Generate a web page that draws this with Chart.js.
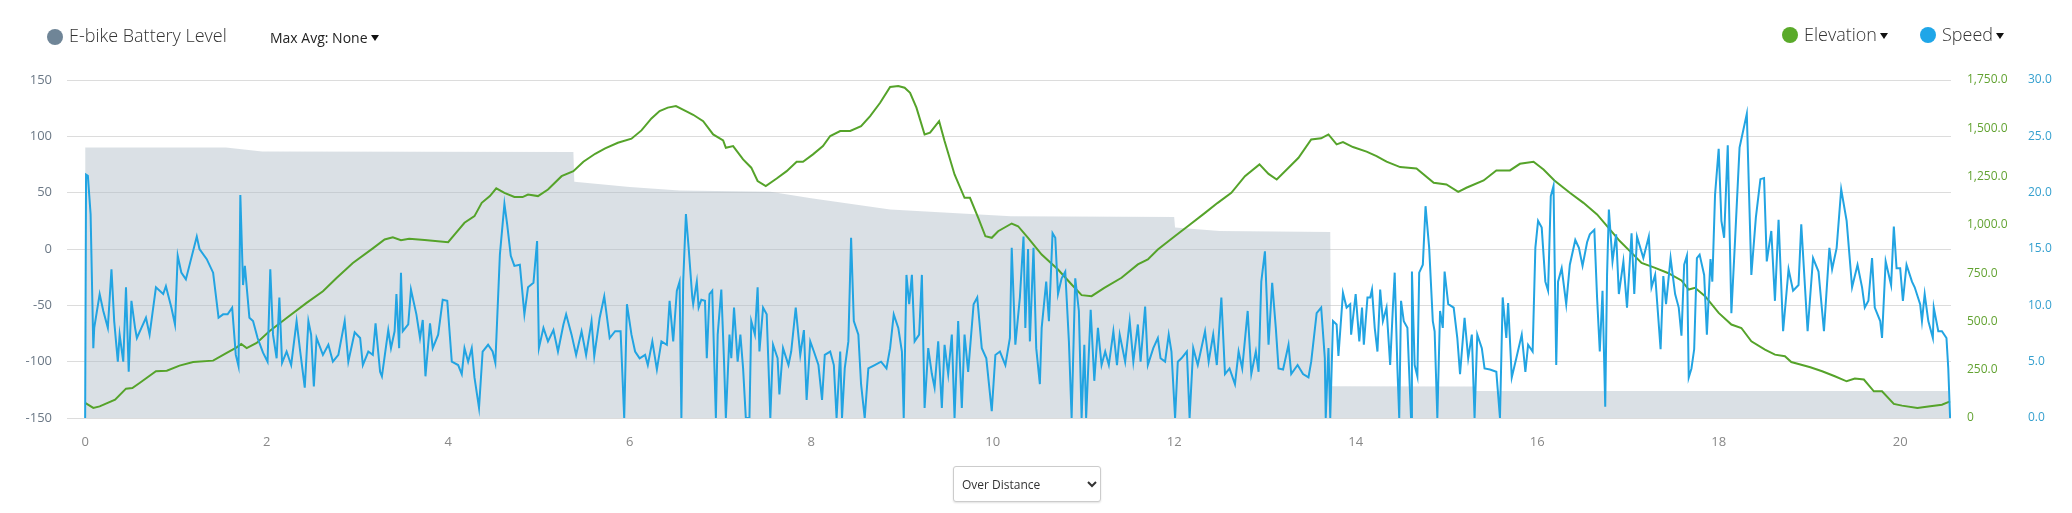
<!DOCTYPE html>
<html>
<head>
<meta charset="utf-8">
<script src="https://cdn.jsdelivr.net/npm/chart.js@4.4.1/dist/chart.umd.min.js"></script>
<style>
  html, body { margin: 0; padding: 0; background: #fff; }
  body { font-family: "Open Sans", sans-serif; }
  #wrap { position: relative; width: 2072px; height: 513px; overflow: hidden; }
  #rideChart { position: absolute; left: 0; top: 0; }
  .dot { position: absolute; width: 16px; height: 16px; border-radius: 50%; }
  .lbl { position: absolute; white-space: nowrap; color: #333; }
  .caret { display: inline-block; width: 0; height: 0; border-left: 4px solid transparent;
    border-right: 4px solid transparent; border-top: 6px solid #111; margin-left: 3px; vertical-align: 2px; }
  #modeSel { position: absolute; left: 953px; top: 466px; width: 148px; height: 36px;
    font-family: "Open Sans", sans-serif; font-size: 12px; color: #333; background: #fff;
    border: 1px solid #ccc; border-radius: 3px; padding-left: 4px; box-shadow: 0 1px 2px rgba(0,0,0,0.12); }
</style>
</head>
<body>
<div id="wrap">
  <canvas id="rideChart" width="2072" height="513"></canvas>

  <div class="dot" style="left:47px; top:29px; background:#6f8597;"></div>
  <div class="lbl" style="left:69px; top:26px; font-size:18px; line-height:18px; font-weight:300;">E-bike Battery Level</div>
  <div class="lbl" style="left:270px; top:31px; font-size:14px; line-height:14px; font-weight:500; color:#222;">Max Avg: None<span class="caret"></span></div>

  <div class="dot" style="left:1782px; top:27px; background:#5aaa2a;"></div>
  <div class="lbl" style="left:1804px; top:25px; font-size:18px; line-height:18px; font-weight:300;">Elevation<span class="caret"></span></div>
  <div class="dot" style="left:1920px; top:27px; background:#1fa6e8;"></div>
  <div class="lbl" style="left:1942px; top:25px; font-size:18px; line-height:18px; font-weight:300;">Speed<span class="caret"></span></div>

  <select id="modeSel"><option>Over Distance</option><option>Over Time</option></select>
</div>

<script>
  // distance along the ride (x axis)
  const xTicks = [0, 2, 4, 6, 8, 10, 12, 14, 16, 18, 20];

  // battery level, drawn on the left axis
  const batteryDist = [0, 1.55, 1.95, 5.38, 5.39, 6.0, 6.55, 7.55, 8.0, 8.87, 10.2, 12.0, 12.01, 12.5, 13.72, 13.73, 15.3, 15.32, 20.55];
  const batteryLvl = [90, 90, 86.5, 86, 59.7, 55, 52, 50.8, 45, 35, 29, 28.3, 19, 16, 15, -121.8, -122, -126, -126];

  // elevation (right axis, metres)
  const elevDist = [0.0, 0.09, 0.16, 0.33, 0.45, 0.52, 0.6, 0.78, 0.9, 1.04, 1.19, 1.41, 1.56, 1.67, 1.72, 1.78, 1.89, 2.03, 2.22, 2.44,
    2.62, 2.77, 2.95, 3.17, 3.30, 3.39, 3.48, 3.57, 3.74, 4.0, 4.07, 4.18, 4.29, 4.37, 4.46, 4.53, 4.62, 4.73, 4.82, 4.88,
    4.99, 5.10, 5.25, 5.38, 5.49, 5.62, 5.73, 5.87, 6.02, 6.13, 6.24, 6.33, 6.42, 6.51, 6.62, 6.70, 6.81, 6.92, 7.03, 7.06,
    7.14, 7.25, 7.34, 7.41, 7.50, 7.62, 7.73, 7.84, 7.91, 8.02, 8.13, 8.21, 8.32, 8.43, 8.55, 8.65, 8.76, 8.87, 8.96, 9.03,
    9.09, 9.16, 9.25, 9.31, 9.41, 9.47, 9.58, 9.69, 9.75, 9.84, 9.92, 9.99, 10.06, 10.21, 10.28, 10.39, 10.54, 10.72, 10.87, 10.98,
    11.09, 11.23, 11.42, 11.60, 11.71, 11.82, 12.01, 12.15, 12.34, 12.48, 12.63, 12.78, 12.94, 13.04, 13.13, 13.26, 13.37, 13.51, 13.62, 13.70,
    13.79, 13.86, 13.97, 14.12, 14.23, 14.34, 14.49, 14.67, 14.86, 15.0, 15.13, 15.22, 15.41, 15.55, 15.70, 15.81, 15.96, 16.07, 16.19, 16.36,
    16.51, 16.66, 16.77, 16.91, 17.06, 17.15, 17.30, 17.44, 17.59, 17.67, 17.74, 17.85, 18.0, 18.14, 18.25, 18.36, 18.51, 18.62, 18.73, 18.80,
    18.91, 19.01, 19.14, 19.28, 19.41, 19.50, 19.60, 19.71, 19.80, 19.93, 20.02, 20.19, 20.31, 20.46, 20.55];
  const elevM = [78, 52, 60, 95, 152, 155, 181, 242, 245, 271, 290, 297, 337, 366, 383, 362, 389, 449, 518, 596,
    656, 725, 803, 878, 924, 936, 920, 928, 922, 910, 950, 1011, 1045, 1114, 1149, 1189, 1166, 1144, 1144, 1157,
    1149, 1183, 1252, 1278, 1327, 1368, 1396, 1425, 1446, 1489, 1551, 1589, 1607, 1615, 1589, 1570, 1537, 1468, 1437, 1399,
    1408, 1339, 1296, 1227, 1201, 1240, 1278, 1327, 1327, 1365, 1408, 1460, 1486, 1486, 1511, 1563, 1632, 1714, 1719, 1710,
    1684, 1607, 1468, 1477, 1537, 1434, 1261, 1140, 1140, 1037, 941, 933, 967, 1007, 993, 933, 846, 769, 691, 636,
    631, 674, 726, 795, 821, 872, 942, 993, 1062, 1114, 1166, 1252, 1313, 1264, 1235, 1296, 1347, 1442, 1448, 1468,
    1417, 1429, 1403, 1379, 1356, 1327, 1299, 1292, 1218, 1209, 1171, 1192, 1230, 1282, 1282, 1316, 1327, 1287, 1230, 1166,
    1114, 1054, 993, 916, 846, 803, 777, 751, 712, 665, 674, 631, 544, 484, 466, 397, 354, 328, 320, 290,
    276, 263, 242, 216, 190, 204, 199, 138, 138, 73, 64, 52, 60, 69, 86];

  // speed (far right axis)
  const speedDist = [0, 0.01, 0.03, 0.06, 0.09, 0.10, 0.16, 0.20, 0.25, 0.29, 0.32, 0.36, 0.38, 0.42, 0.45, 0.48, 0.51, 0.55, 0.57, 0.62,
    0.67, 0.71, 0.78, 0.86, 0.89, 0.95, 0.99, 1.02, 1.06, 1.11, 1.23, 1.26, 1.34, 1.41, 1.47, 1.52, 1.57, 1.62, 1.66, 1.69,
    1.71, 1.74, 1.76, 1.81, 1.85, 1.90, 1.96, 2.01, 2.04, 2.07, 2.11, 2.14, 2.17, 2.22, 2.27, 2.33, 2.37, 2.42, 2.46, 2.49,
    2.52, 2.55, 2.62, 2.68, 2.73, 2.79, 2.86, 2.90, 2.97, 3.03, 3.06, 3.12, 3.17, 3.20, 3.25, 3.27, 3.34, 3.37, 3.41, 3.43,
    3.46, 3.48, 3.50, 3.56, 3.59, 3.65, 3.69, 3.72, 3.75, 3.80, 3.83, 3.89, 3.94, 3.99, 4.04, 4.11, 4.15, 4.18, 4.22, 4.26,
    4.29, 4.34, 4.38, 4.44, 4.49, 4.52, 4.57, 4.62, 4.65, 4.69, 4.73, 4.79, 4.84, 4.88, 4.94, 4.98, 5.0, 5.05, 5.10, 5.16,
    5.21, 5.27, 5.30, 5.36, 5.41, 5.47, 5.52, 5.58, 5.61, 5.67, 5.72, 5.78, 5.84, 5.90, 5.94, 5.97, 6.02, 6.06, 6.11, 6.17,
    6.20, 6.25, 6.30, 6.35, 6.41, 6.44, 6.48, 6.52, 6.55, 6.57, 6.59, 6.62, 6.65, 6.69, 6.70, 6.74, 6.76, 6.79, 6.83, 6.85,
    6.88, 6.91, 6.95, 6.97, 7.01, 7.04, 7.06, 7.10, 7.12, 7.15, 7.19, 7.22, 7.25, 7.28, 7.32, 7.34, 7.38, 7.41, 7.43, 7.47,
    7.51, 7.55, 7.58, 7.63, 7.65, 7.69, 7.75, 7.78, 7.83, 7.88, 7.92, 7.95, 7.99, 8.03, 8.08, 8.12, 8.15, 8.21, 8.25, 8.28,
    8.32, 8.34, 8.37, 8.41, 8.44, 8.47, 8.52, 8.55, 8.59, 8.63, 8.70, 8.77, 8.83, 8.87, 8.91, 8.96, 9.0, 9.02, 9.05, 9.08,
    9.11, 9.14, 9.19, 9.22, 9.25, 9.29, 9.33, 9.36, 9.40, 9.44, 9.47, 9.51, 9.55, 9.58, 9.62, 9.66, 9.69, 9.73, 9.79, 9.83,
    9.88, 9.93, 9.99, 10.03, 10.08, 10.14, 10.19, 10.21, 10.25, 10.30, 10.34, 10.36, 10.39, 10.41, 10.45, 10.48, 10.52, 10.54, 10.59, 10.62,
    10.66, 10.69, 10.72, 10.76, 10.80, 10.84, 10.87, 10.91, 10.95, 10.98, 11.01, 11.03, 11.08, 11.12, 11.16, 11.20, 11.24, 11.28, 11.33, 11.37,
    11.40, 11.46, 11.51, 11.55, 11.60, 11.63, 11.68, 11.71, 11.77, 11.82, 11.85, 11.90, 11.94, 11.97, 12.01, 12.04, 12.08, 12.14, 12.17, 12.21,
    12.26, 12.34, 12.38, 12.43, 12.47, 12.52, 12.56, 12.61, 12.67, 12.71, 12.75, 12.81, 12.85, 12.90, 12.93, 12.96, 13.0, 13.04, 13.08, 13.12,
    13.15, 13.20, 13.26, 13.29, 13.36, 13.42, 13.48, 13.51, 13.57, 13.62, 13.66, 13.67, 13.70, 13.72, 13.75, 13.79, 13.81, 13.86, 13.90, 13.94,
    13.95, 14.0, 14.04, 14.07, 14.09, 14.13, 14.16, 14.18, 14.21, 14.24, 14.27, 14.30, 14.34, 14.38, 14.41, 14.43, 14.46, 14.48, 14.50, 14.53,
    14.57, 14.61, 14.62, 14.65, 14.68, 14.70, 14.74, 14.77, 14.81, 14.85, 14.87, 14.90, 14.93, 14.96, 14.98, 15.02, 15.08, 15.12, 15.15, 15.20,
    15.24, 15.28, 15.31, 15.34, 15.39, 15.42, 15.48, 15.55, 15.59, 15.62, 15.66, 15.68, 15.72, 15.77, 15.83, 15.87, 15.90, 15.95, 15.98, 16.01,
    16.05, 16.09, 16.12, 16.15, 16.18, 16.21, 16.23, 16.27, 16.32, 16.36, 16.42, 16.46, 16.50, 16.55, 16.58, 16.63, 16.66, 16.69, 16.72, 16.75,
    16.77, 16.79, 16.83, 16.87, 16.90, 16.95, 16.99, 17.04, 17.07, 17.10, 17.17, 17.23, 17.26, 17.30, 17.36, 17.39, 17.42, 17.47, 17.52, 17.56,
    17.59, 17.62, 17.65, 17.67, 17.70, 17.73, 17.76, 17.79, 17.84, 17.87, 17.91, 17.93, 17.96, 18.0, 18.03, 18.06, 18.10, 18.14, 18.18, 18.23,
    18.31, 18.36, 18.41, 18.46, 18.50, 18.53, 18.58, 18.62, 18.66, 18.71, 18.77, 18.82, 18.88, 18.91, 18.98, 19.04, 19.10, 19.16, 19.22, 19.25,
    19.30, 19.35, 19.41, 19.47, 19.53, 19.58, 19.61, 19.65, 19.69, 19.72, 19.78, 19.80, 19.84, 19.90, 19.93, 19.96, 20.0, 20.03, 20.07, 20.13,
    20.16, 20.22, 20.24, 20.27, 20.31, 20.36, 20.37, 20.42, 20.46, 20.51, 20.53, 20.55];
  const speedKmh = [0, 21.6, 21.5, 18.1, 6.2, 8.0, 11.0, 9.5, 8.0, 13.2, 8.6, 5.0, 7.4, 5.0, 11.6, 4.1, 10.4, 8.0, 7.1, 8.0,
    8.9, 7.4, 11.6, 11.0, 11.7, 9.8, 8.3, 14.4, 12.9, 12.3, 16.1, 15.0, 14.1, 12.9, 8.9, 9.2, 9.2, 9.8, 5.6, 4.6,
    19.8, 11.8, 13.5, 8.9, 8.6, 7.1, 5.8, 5.0, 13.2, 7.4, 5.3, 10.7, 4.9, 5.9, 4.7, 8.6, 5.9, 2.7, 8.6, 7.4,
    2.8, 7.1, 5.6, 6.5, 5.0, 5.6, 8.6, 5.0, 7.6, 7.1, 4.7, 5.9, 5.6, 8.4, 4.1, 3.7, 7.8, 6.2, 7.7, 11.0,
    6.2, 12.9, 7.7, 8.3, 11.4, 9.2, 7.1, 8.7, 3.7, 8.4, 6.2, 7.4, 10.5, 10.4, 5.0, 4.7, 3.9, 6.2, 5.0, 6.2,
    3.6, 0.9, 5.9, 6.5, 5.9, 4.9, 14.5, 19.0, 17.2, 14.4, 13.5, 13.6, 9.2, 11.6, 12.0, 15.7, 6.2, 8.0, 6.8, 7.8,
    5.9, 8.3, 9.2, 7.4, 5.6, 7.7, 5.6, 8.6, 5.5, 8.9, 10.8, 7.1, 7.7, 7.7, 0, 10.1, 7.4, 5.9, 5.3, 5.6,
    4.7, 6.8, 4.3, 6.8, 6.5, 10.4, 6.8, 11.3, 12.1, 0, 12.1, 18.1, 15.1, 10.7, 10.1, 12.1, 9.8, 10.5, 10.4, 5.3,
    11.0, 11.3, 0, 7.4, 11.4, 5.0, 0, 7.4, 5.3, 9.8, 5.0, 7.4, 4.4, 0, 0, 8.6, 7.4, 11.6, 5.9, 9.8,
    9.2, 0, 6.5, 5.3, 2.1, 6.2, 4.7, 5.9, 9.8, 5.6, 7.8, 1.6, 6.8, 5.9, 4.7, 1.6, 5.6, 5.9, 4.7, 0,
    5.9, 0, 4.4, 6.8, 16.0, 8.6, 7.4, 3.0, 0, 4.4, 4.7, 5.0, 4.4, 6.2, 9.2, 8.0, 5.9, 0, 12.7, 10.1,
    12.7, 6.8, 7.4, 12.7, 0.9, 6.2, 3.9, 2.7, 6.8, 0.9, 6.5, 3.9, 7.4, 0, 8.6, 0.9, 7.4, 4.1, 10.1, 10.7,
    6.2, 5.3, 0.6, 5.6, 5.9, 4.7, 7.1, 15.1, 6.5, 10.7, 16.1, 8.0, 15.0, 6.8, 15.1, 6.2, 3.0, 8.0, 12.1, 8.6,
    16.4, 16.0, 11.0, 12.4, 13.0, 6.8, 0, 12.4, 9.5, 0, 6.5, 0, 9.6, 3.3, 8.0, 4.7, 5.9, 4.7, 7.7, 4.7,
    7.4, 5.0, 8.6, 5.0, 8.3, 5.0, 9.9, 4.7, 6.2, 7.1, 5.3, 5.0, 7.4, 5.9, 0, 5.0, 5.3, 5.9, 0, 6.2,
    4.7, 7.7, 5.0, 7.4, 4.7, 10.7, 3.9, 4.4, 3.0, 5.9, 4.4, 9.5, 3.9, 5.9, 4.1, 12.1, 14.8, 6.5, 12.0, 8.0,
    4.4, 4.3, 6.5, 3.9, 4.7, 3.9, 3.6, 5.0, 9.3, 9.8, 5.3, 0, 6.2, 0, 8.6, 8.3, 5.5, 11.1, 9.8, 10.1,
    7.4, 11.0, 6.8, 9.8, 6.5, 10.7, 10.7, 11.4, 8.0, 5.9, 11.4, 8.6, 9.8, 4.7, 9.8, 12.9, 4.4, 0, 10.4, 8.6,
    8.0, 0, 13.0, 4.7, 3.7, 12.9, 13.6, 18.8, 15.1, 8.6, 7.7, 0, 9.5, 8.0, 13.0, 10.1, 9.8, 7.1, 3.9, 8.9,
    5.3, 7.4, 0, 7.4, 6.2, 4.4, 4.3, 4.1, 0, 10.7, 7.1, 10.2, 3.6, 5.3, 7.4, 4.1, 6.5, 5.9, 15.1, 17.5,
    16.9, 12.1, 11.3, 19.7, 20.6, 4.7, 12.1, 13.3, 10.1, 13.6, 15.8, 15.1, 13.5, 15.6, 16.3, 16.7, 10.7, 5.9, 11.3, 1.0,
    12.7, 18.5, 13.9, 16.3, 11.0, 13.9, 9.8, 16.4, 11.0, 16.1, 14.2, 16.1, 11.6, 12.7, 6.1, 12.6, 10.1, 14.2, 11.0, 9.8,
    7.3, 13.6, 14.4, 3.6, 4.4, 6.1, 14.2, 14.5, 12.7, 7.4, 14.1, 12.1, 19.8, 23.9, 17.5, 16.0, 24.2, 9.3, 15.7, 24.0,
    27.0, 12.7, 17.8, 21.2, 21.3, 13.9, 16.6, 10.4, 17.6, 7.7, 13.2, 11.3, 11.8, 17.2, 7.7, 14.2, 13.0, 7.7, 15.1, 13.2,
    15.1, 20.3, 17.5, 11.6, 13.6, 11.6, 9.8, 10.4, 14.2, 9.8, 8.6, 7.1, 13.9, 11.8, 17.0, 13.3, 13.3, 10.4, 13.6, 12.1,
    11.6, 10.1, 8.6, 11.0, 8.6, 7.1, 9.8, 7.7, 7.7, 7.1, 4.4, 0];

  const toPoints = function (xs, ys) {
    return xs.map((x, i) => ({ x: x, y: ys[i] }));
  };

  Chart.defaults.font.family = "'Open Sans', sans-serif";

  new Chart(document.getElementById('rideChart'), {
    type: 'line',
    data: {
      datasets: [
        {
          label: 'Speed',
          data: toPoints(speedDist, speedKmh),
          yAxisID: 'spd',
          borderColor: '#22a4e2',
          borderWidth: 2,
          pointRadius: 0,
          tension: 0,
          order: 0
        },
        {
          label: 'Elevation',
          data: toPoints(elevDist, elevM),
          yAxisID: 'elev',
          borderColor: '#55a32a',
          borderWidth: 2,
          pointRadius: 0,
          tension: 0,
          order: 1
        },
        {
          label: 'E-bike Battery Level',
          data: toPoints(batteryDist, batteryLvl),
          yAxisID: 'y',
          borderWidth: 0,
          borderColor: 'rgba(0,0,0,0)',
          backgroundColor: 'rgba(174,186,197,0.45)',
          fill: 'start',
          pointRadius: 0,
          tension: 0,
          order: 2
        }
      ]
    },
    options: {
      responsive: false,
      animation: false,
      layout: { padding: { left: 0, right: 0, top: 80, bottom: 65 } },
      plugins: {
        legend: { display: false },
        tooltip: { enabled: false }
      },
      scales: {
        x: {
          type: 'linear',
          min: -0.2,
          max: 20.56,
          grid: { display: false },
          border: { display: false },
          ticks: { color: '#888', font: { size: 13 }, padding: 8 },
          afterBuildTicks: function (axis) {
            axis.ticks = xTicks.map(v => ({ value: v }));
          },
          afterFit: function (axis) { axis.height = 30; }
        },
        y: {
          position: 'left',
          min: -150,
          max: 150,
          ticks: { stepSize: 50, color: '#6b7886', font: { size: 13 }, padding: 15 },
          grid: { color: '#dcdcdc', drawTicks: false },
          border: { display: false },
          afterFit: function (axis) { axis.width = 67; }
        },
        elev: {
          position: 'right',
          weight: 0,
          min: 0,
          max: 1750,
          ticks: {
            stepSize: 250, color: '#63a332', font: { size: 12 }, padding: 16,
            callback: function (v) {
              return v === 0 ? '0' : v.toLocaleString('en-US', { minimumFractionDigits: 1, maximumFractionDigits: 1 });
            }
          },
          grid: { display: false, drawTicks: false },
          border: { display: false },
          afterFit: function (axis) { axis.width = 70; }
        },
        spd: {
          position: 'right',
          weight: 1,
          min: 0,
          max: 30,
          ticks: {
            stepSize: 5, color: '#35a0cf', font: { size: 12 }, padding: 7,
            callback: function (v) { return v.toFixed(1); }
          },
          grid: { display: false, drawTicks: false },
          border: { display: false },
          afterFit: function (axis) { axis.width = 51; }
        }
      }
    }
  });
</script>
</body>
</html>
